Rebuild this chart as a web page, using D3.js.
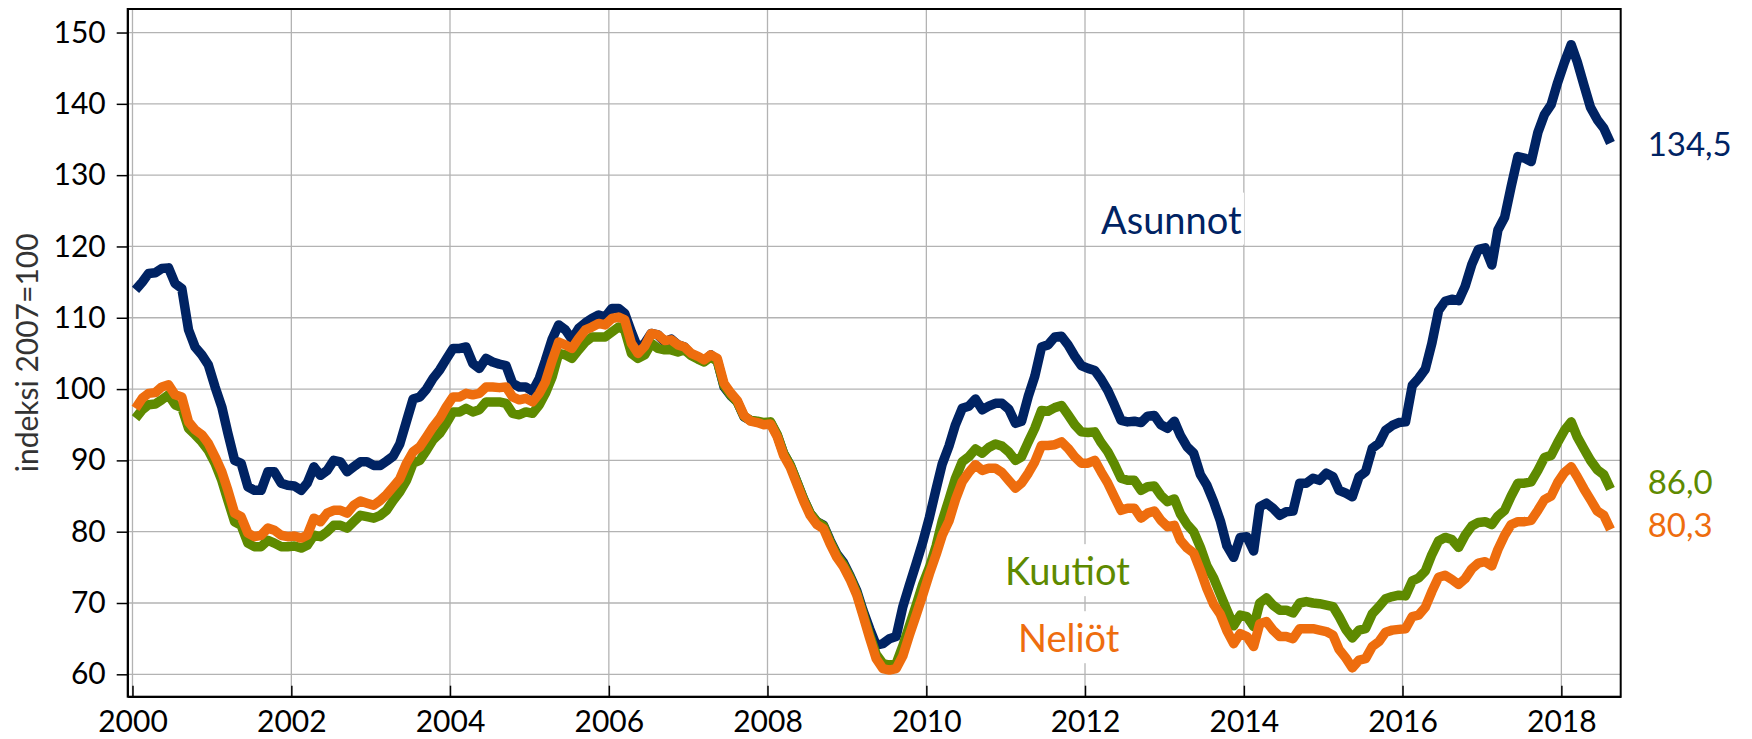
<!DOCTYPE html>
<html>
<head>
<meta charset="utf-8">
<script src="https://cdn.jsdelivr.net/npm/d3@7"></script>
<style>
  body { margin: 0; background: #fff; }
</style>
</head>
<body>
<div id="canvas"></div>
<script>
/* global d3 */

// monthly index 2007=100, Jan 2000 .. Aug 2018
const asunnot = [
  113.9, 115.0, 116.2, 116.3, 116.9, 117.0, 114.8, 114.1, 108.3, 105.9, 104.8, 103.4,
  100.3, 97.5, 93.8, 90.0, 89.6, 86.3, 85.8, 85.8, 88.4, 88.4, 86.8, 86.5,
  86.4, 85.8, 86.8, 89.1, 87.9, 88.6, 90.0, 89.8, 88.4, 89.1, 89.8, 89.8,
  89.3, 89.3, 89.9, 90.6, 92.3, 95.5, 98.6, 98.9, 100.0, 101.5, 102.7, 104.2,
  105.7, 105.7, 105.9, 103.6, 102.9, 104.3, 103.8, 103.5, 103.3, 100.8, 100.3, 100.3,
  99.7, 101.5, 104.0, 107.0, 109.0, 108.3, 107.0, 108.5, 109.3, 109.9, 110.4, 110.1,
  111.3, 111.3, 110.6, 108.0, 105.7, 106.4, 107.8, 107.6, 106.6, 107.0, 106.2, 105.9,
  104.8, 104.3, 103.9, 104.8, 104.0, 100.3, 99.1, 98.2, 96.1, 95.6, 95.4, 95.2,
  95.3, 93.5, 91.0, 89.3, 87.0, 84.6, 82.6, 81.4, 80.9, 78.8, 76.9, 75.7,
  73.8, 71.7, 69.0, 66.4, 64.1, 64.3, 65.0, 65.3, 69.5, 72.5, 75.5, 78.5,
  82.0, 86.0, 89.5, 92.0, 95.0, 97.3, 97.6, 98.6, 97.1, 97.6, 98.0, 98.0,
  97.2, 95.2, 95.5, 99.0, 101.8, 105.9, 106.2, 107.3, 107.4, 106.2, 104.6, 103.3,
  102.9, 102.6, 101.4, 99.8, 97.8, 95.6, 95.4, 95.5, 95.3, 96.2, 96.3, 95.0,
  94.5, 95.5, 93.5, 91.9, 91.0, 88.0, 86.5, 84.2, 81.5, 78.0, 76.4, 79.2,
  79.3, 77.3, 83.5, 84.0, 83.3, 82.3, 82.8, 82.9, 86.8, 86.8, 87.5, 87.2,
  88.2, 87.7, 85.8, 85.4, 84.9, 87.7, 88.4, 91.7, 92.4, 94.2, 94.9, 95.3,
  95.4, 100.5, 101.5, 102.8, 106.4, 111.0, 112.3, 112.6, 112.4, 114.4, 117.5, 119.6,
  119.8, 117.4, 122.3, 124.1, 128.4, 132.6, 132.4, 131.9, 136.0, 138.5, 139.9, 143.0,
  145.8, 148.3, 145.9, 142.6, 139.5, 137.8, 136.6, 134.5
]

const kuutiot = [
  95.9, 97.1, 97.8, 97.9, 98.5, 99.2, 97.8, 97.4, 94.5, 93.6, 92.6, 91.4,
  89.6, 87.2, 84.4, 81.4, 80.9, 78.4, 77.9, 77.9, 78.8, 78.4, 77.9, 77.9,
  78.0, 77.7, 78.1, 79.5, 79.3, 80.0, 80.9, 80.9, 80.5, 81.4, 82.3, 82.1,
  81.9, 82.3, 83.0, 84.4, 85.6, 87.2, 89.6, 90.0, 91.4, 92.9, 93.8, 95.2,
  96.8, 96.8, 97.3, 96.8, 97.1, 98.2, 98.2, 98.2, 98.0, 96.6, 96.4, 96.8,
  96.6, 97.8, 99.4, 101.7, 105.0, 104.8, 104.3, 105.5, 106.6, 107.3, 107.3, 107.3,
  108.0, 108.7, 108.3, 105.0, 104.3, 104.8, 106.4, 105.7, 105.5, 105.5, 105.2, 105.5,
  104.7, 104.2, 103.8, 104.5, 103.9, 100.5, 99.2, 98.2, 96.2, 95.6, 95.5, 95.3,
  95.4, 93.6, 91.0, 89.3, 87.0, 84.6, 82.6, 81.4, 80.8, 78.6, 76.7, 75.4,
  73.6, 71.4, 68.6, 65.5, 62.8, 61.5, 61.3, 61.5, 64.0, 66.8, 69.7, 72.6,
  75.0, 78.0, 81.5, 84.5, 87.5, 89.8, 90.5, 91.6, 91.0, 91.8, 92.3, 92.0,
  91.2, 90.0, 90.5, 92.6, 94.5, 97.0, 96.9, 97.4, 97.7, 96.4, 95.0, 94.0,
  93.9, 94.0, 92.5, 91.2, 89.5, 87.5, 87.2, 87.2, 85.8, 86.3, 86.4, 85.1,
  84.2, 84.6, 82.5, 81.0, 80.0, 77.8, 75.2, 73.5, 71.2, 69.0, 66.8, 68.3,
  68.1, 66.7, 70.0, 70.7, 69.7, 69.0, 69.0, 68.6, 70.0, 70.2, 70.0, 69.9,
  69.7, 69.5, 68.1, 66.3, 65.1, 66.2, 66.4, 68.5, 69.5, 70.6, 70.9, 71.1,
  71.0, 73.1, 73.5, 74.5, 76.8, 78.7, 79.2, 78.9, 77.8, 79.5, 80.8, 81.3,
  81.4, 81.0, 82.2, 83.0, 85.0, 86.8, 86.8, 87.0, 88.6, 90.4, 90.7, 92.5,
  94.2, 95.4, 93.3, 91.6, 90.0, 88.7, 88.0, 86.0
]

const neliot = [
  97.3, 98.7, 99.4, 99.5, 100.3, 100.6, 99.2, 98.9, 95.4, 94.3, 93.6, 92.4,
  90.5, 88.4, 85.8, 82.6, 82.1, 79.8, 79.3, 79.5, 80.5, 80.2, 79.5, 79.3,
  79.4, 79.1, 79.5, 81.9, 81.4, 82.6, 83.0, 83.0, 82.6, 83.7, 84.3, 84.0,
  83.7, 84.4, 85.2, 86.3, 87.4, 89.6, 91.2, 91.9, 93.3, 94.7, 95.9, 97.5,
  98.9, 98.9, 99.4, 99.2, 99.4, 100.3, 100.3, 100.2, 100.3, 98.9, 98.5, 98.7,
  98.2, 99.4, 101.0, 104.0, 106.6, 106.2, 105.7, 107.1, 108.3, 108.7, 109.2, 109.0,
  109.9, 110.1, 109.7, 106.4, 105.0, 106.0, 107.8, 107.6, 106.8, 106.9, 106.2, 105.9,
  105.0, 104.6, 104.1, 104.8, 104.3, 100.8, 99.5, 98.4, 96.3, 95.5, 95.3, 95.0,
  95.1, 93.3, 90.7, 89.0, 86.7, 84.3, 82.3, 81.0, 80.4, 78.3, 76.4, 75.1,
  73.3, 71.1, 68.3, 65.1, 62.2, 60.8, 60.6, 60.8, 62.6, 65.5, 68.3, 71.1,
  74.1, 76.8, 79.5, 81.5, 84.5, 87.0, 88.3, 89.4, 88.6, 88.9, 88.9, 88.3,
  87.2, 86.1, 86.8, 88.2, 89.8, 92.1, 92.1, 92.2, 92.6, 91.7, 90.5, 89.6,
  89.6, 90.0, 88.4, 86.8, 84.9, 83.0, 83.3, 83.3, 81.9, 82.6, 82.9, 81.6,
  80.7, 80.9, 78.8, 77.7, 77.0, 74.6, 72.0, 69.8, 68.4, 66.1, 64.3, 65.7,
  65.3, 63.9, 67.1, 67.4, 66.2, 65.3, 65.3, 65.0, 66.4, 66.4, 66.4, 66.2,
  66.0, 65.5, 63.5, 62.3, 60.9, 62.0, 62.2, 63.9, 64.6, 65.9, 66.2, 66.3,
  66.4, 68.1, 68.3, 69.4, 71.6, 73.6, 73.9, 73.3, 72.6, 73.4, 74.8, 75.6,
  75.8, 75.2, 77.5, 79.5, 81.0, 81.4, 81.4, 81.6, 83.0, 84.5, 85.0, 86.9,
  88.3, 89.1, 87.7, 86.0, 84.5, 82.9, 82.3, 80.3
]

const seriesNames = ['Asunnot', 'Kuutiot', 'Neliöt']
const endLabels = ['134,5', '86,0', '80,3']
const xTickYears = [2000, 2002, 2004, 2006, 2008, 2010, 2012, 2014, 2016, 2018]
const yTicks = [60, 70, 80, 90, 100, 110, 120, 130, 140, 150]
const yTitle = 'indeksi 2007=100'

const colors = ['#002363', '#5e8a00', '#ee6d0e']
const font = 'Lato, "Open Sans", sans-serif'

var margin = {top: 9, right: 131.3, bottom: 42.3, left: 127.7},
  width = 1752 - margin.left - margin.right,
  height = 739 - margin.top - margin.bottom

var svg = d3.select('#canvas')
  .append('svg')
  .attr('width', width + margin.left + margin.right)
  .attr('height', height + margin.top + margin.bottom)
  .append('g')
  .attr('transform',
    'translate(' + margin.left + ',' + margin.top + ')')

// points sit mid-month
const months = asunnot.map((d, i) => new Date(2000, i, 15))

const x = d3.scaleTime()
  .domain([new Date(1999, 11, 10), new Date(2018, 9, 1)])
  .range([0, width])

const y = d3.scaleLinear()
  .domain([56.86, 153.3])
  .range([height, 0])

// grid
svg.append('g')
  .selectAll('line')
  .data(yTicks)
  .join('line')
  .attr('x1', 0)
  .attr('x2', width)
  .attr('y1', d => y(d))
  .attr('y2', d => y(d))
  .style('stroke', '#b3b3b3')
  .style('stroke-width', 1.3)

svg.append('g')
  .selectAll('line')
  .data(xTickYears)
  .join('line')
  .attr('x1', d => x(new Date(d, 0, 1)))
  .attr('x2', d => x(new Date(d, 0, 1)))
  .attr('y1', 0)
  .attr('y2', height)
  .style('stroke', '#b3b3b3')
  .style('stroke-width', 1.3)

// axes
const yAxis = svg.append('g')
  .call(d3.axisLeft(y).tickValues(yTicks).tickSize(11).tickSizeOuter(0).tickPadding(11))
yAxis.attr('font-size', 30).attr('font-family', font)

const xAxis = svg.append('g')
  .attr('transform', 'translate(0,' + height + ')')
  .call(d3.axisBottom(x)
    .tickValues(xTickYears.map(d => new Date(d, 0, 1)))
    .tickFormat(d3.timeFormat('%Y'))
    .tickSizeInner(-11)
    .tickSizeOuter(0)
    .tickPadding(14))
xAxis.attr('font-size', 30).attr('font-family', font)

svg.selectAll('.tick text').style('fill', '#000')
svg.selectAll('.tick line, .domain').style('stroke', '#000').style('stroke-width', 1.5)

svg.append('rect')
  .attr('width', width)
  .attr('height', height)
  .style('fill', 'none')
  .style('stroke', '#000')
  .style('stroke-width', 2)

svg.append('text')
  .attr('transform', 'translate(' + (26 - margin.left) + ',' + (height / 2) + ') rotate(-90)')
  .attr('text-anchor', 'middle')
  .attr('dominant-baseline', 'central')
  .style('font-family', font)
  .style('font-size', '30px')
  .style('fill', '#333')
  .text(yTitle)

// series name labels on white boxes
const nameSpots = [
  {date: new Date(2013, 1, 1), v: 121.8},
  {date: new Date(2011, 9, 12), v: 72.5},
  {date: new Date(2011, 9, 18), v: 63.1}
]
seriesNames.forEach((name, k) => {
  const g = svg.append('g')
  const t = g.append('text')
    .attr('x', x(nameSpots[k].date))
    .attr('y', y(nameSpots[k].v))
    .attr('text-anchor', 'middle')
    .style('font-family', font)
    .style('font-size', '38px')
    .style('fill', colors[k])
    .text(name)
  const b = t.node().getBBox()
  g.insert('rect', 'text')
    .attr('x', b.x - 2)
    .attr('y', b.y - 3)
    .attr('width', b.width + 4)
    .attr('height', b.height + 6)
    .style('fill', '#fff')
})

// lines
const line = d3.line()
  .x((d, i) => x(months[i]))
  .y(d => y(d))

const series = [asunnot, kuutiot, neliot]
svg.append('g')
  .selectAll('path')
  .data(series)
  .join('path')
  .attr('d', d => line(d))
  .style('fill', 'none')
  .style('stroke', (d, k) => colors[k])
  .style('stroke-width', 9.5)
  .style('stroke-linejoin', 'round')

// last values at the right
const nudge = [0, -8, -6]
svg.append('g')
  .selectAll('text')
  .data(series)
  .join('text')
  .attr('x', width + 27)
  .attr('y', (d, k) => y(d[d.length - 1]) + nudge[k])
  .attr('dominant-baseline', 'central')
  .style('font-family', font)
  .style('font-size', '33px')
  .style('fill', (d, k) => colors[k])
  .text((d, k) => endLabels[k])
</script>
</body>
</html>
